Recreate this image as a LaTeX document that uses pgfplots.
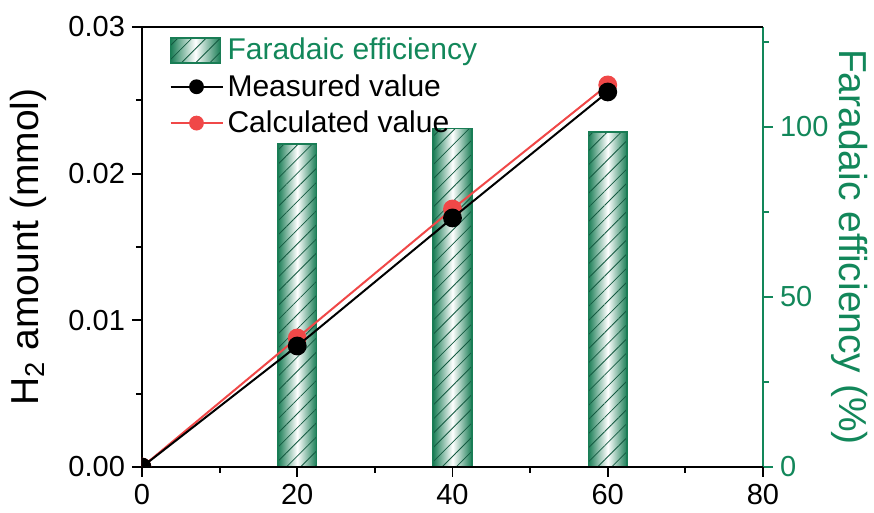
\documentclass[border=0pt]{standalone}
\usepackage{fontspec}
\setmainfont{Liberation Sans}
\usepackage{pgfplots}
\pgfplotsset{compat=1.18}
\usepackage{pgfplotstable}
\usetikzlibrary{patterns.meta}

\definecolor{fegreen}{RGB}{18,135,90}
\definecolor{barshade}{RGB}{25,125,85}
\definecolor{hatch}{RGB}{20,90,65}
\definecolor{calcred}{RGB}{240,72,72}

% Faradaic efficiency (%) at each sampling time
\pgfplotstableread{
x fe
20 95.0
40 99.5
60 98.6
}\fedata
% H2 amount (mmol), measured
\pgfplotstableread{
x h2
0 0
20 0.00825
40 0.01698
60 0.02557
}\measured
% H2 amount (mmol), calculated from charge
\pgfplotstableread{
x h2
0 0
20 0.00880
40 0.01759
60 0.02605
}\calculated

\pgfplotsset{
  common/.style={
    width=310.5pt, height=220pt, scale only axis,
    at={(0,0)}, anchor=south west,
    xmin=0, xmax=80,
    tick label style={font=\fontsize{14.5}{16}\selectfont},
    /pgf/number format/assume math mode=true,
    major tick length=5pt, minor tick length=3pt,
    tick align=outside,
    every outer x axis line/.append style={-},
    every outer y axis line/.append style={-},
    axis line style={line width=0.9pt},
    every tick/.style={line width=0.9pt},
  },
  % one bar, shaded dark-light-dark across its own width
  shaded bar/.style={ybar, bar width=5, draw=none,
    left color=barshade, right color=barshade, middle color=white},
  hatched bar legend/.style={legend image code/.code={
    \path[left color=barshade, right color=barshade, middle color=white] (0pt,-6.25pt) rectangle (25pt,6.25pt);
    \path[pattern={Lines[angle=45,distance=5pt,line width=0.4pt]}, pattern color=hatch] (0pt,-6.25pt) rectangle (25pt,6.25pt);
    \draw[barshade, line width=0.8pt] (0pt,-6.25pt) rectangle (25pt,6.25pt);}},
  dot line legend/.style={legend image code/.code={
    \draw[mark repeat=2, mark phase=2, ##1] plot coordinates {(0pt,0pt) (13pt,0pt) (26pt,0pt)};}},
}

\begin{document}
\begin{tikzpicture}
\path[use as bounding box] (-71pt,-23pt) rectangle (366pt,233.5pt);
% right axis: Faradaic efficiency bars
\begin{axis}[common,
  axis x line=none, axis y line*=right,
  ymin=0, ymax=129.4,
  ytick={0,50,100}, minor ytick={25,75,125},
  axis line style={fegreen},
  every tick/.append style={fegreen},
  yticklabel style={fegreen},
  ylabel={Faradaic efficiency (\%)},
  every axis y label/.style={at={(rel axis cs:1,0.5)}, xshift=43.5pt, rotate=-90,
    anchor=center, fegreen, font=\fontsize{19.5}{22}\selectfont},
]
\addplot[shaded bar] table[x=x, y=fe, skip coords between index={1}{3}]{\fedata};
\addplot[shaded bar] table[x=x, y=fe, skip coords between index={0}{1},
  skip coords between index={2}{3}]{\fedata};
\addplot[shaded bar] table[x=x, y=fe, skip coords between index={0}{2}]{\fedata};
\addplot[ybar, bar width=5, draw=barshade, line width=0.8pt,
  pattern={Lines[angle=45,distance=5pt,line width=0.4pt]}, pattern color=hatch]
  table[x=x, y=fe]{\fedata};
\end{axis}
% left axis: H2 amount
\begin{axis}[common,
  axis x line*=bottom, axis y line*=left,
  ymin=0, ymax=0.03,
  ytick={0,0.01,0.02,0.03}, minor ytick={0.005,0.015,0.025},
  xtick={0,20,40,60,80}, minor xtick={10,30,50,70},
  scaled y ticks=false,
  yticklabel style={/pgf/number format/fixed, /pgf/number format/precision=2,
    /pgf/number format/fixed zerofill},
  ylabel={H\textsubscript{2} amount (mmol)},
  every axis y label/.style={at={(rel axis cs:0,0.5)}, xshift=-57pt, rotate=90,
    anchor=center, font=\fontsize{19.5}{22}\selectfont},
  clip marker paths=true,
  legend style={draw=none, fill=none, at={(0.034,0.994)}, anchor=north west,
    font=\fontsize{15}{18}\selectfont, row sep=1.8pt},
  legend cell align=left,
  extra description/.code={\draw[line width=0.9pt] (rel axis cs:0,1) -- (rel axis cs:1,1);},
]
\addlegendimage{hatched bar legend}
\addlegendentry{\textcolor{fegreen}{Faradaic efficiency}}
\addlegendimage{black, line width=1pt, mark=*, mark size=3.2pt, dot line legend}
\addlegendentry{Measured value}
\addlegendimage{calcred, line width=1pt, mark=*, mark size=3.2pt, dot line legend}
\addlegendentry{Calculated value}

\addplot[calcred, line width=1pt, mark=*, mark size=4.2pt, forget plot]
  table[x=x, y=h2]{\calculated};
\addplot[black, line width=1pt, mark=*, mark size=4.2pt, forget plot]
  table[x=x, y=h2]{\measured};
\end{axis}
\end{tikzpicture}
\end{document}
